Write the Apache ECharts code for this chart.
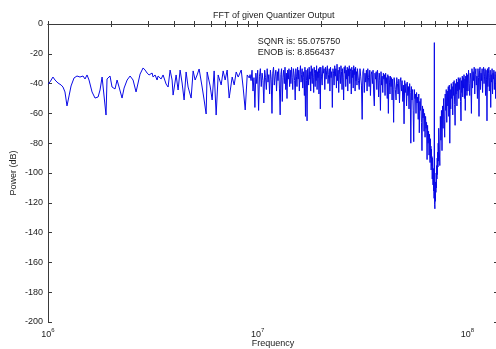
<!DOCTYPE html>
<html>
<head>
<meta charset="utf-8">
<script src="https://cdn.jsdelivr.net/npm/echarts@6/dist/echarts.min.js"></script>
<style>
  html, body { margin: 0; padding: 0; background: #fff; }
  #chart { width: 496px; height: 349px; }
</style>
</head>
<body>
<div id="chart"></div>
<script>
// spectrum
// low end, bins far apart on the log axis: [frequency MHz, power dB]
const lowTrace = [
  [1.000,-40.3],[1.022,-38.9],[1.056,-35.6],[1.080,-37.6],[1.116,-39.6],[1.154,-40.9],[1.179,-42.3],
  [1.205,-45.6],[1.232,-55.0],[1.260,-48.3],[1.288,-41.6],[1.331,-36.2],[1.375,-34.9],[1.421,-35.6],
  [1.469,-34.9],[1.502,-36.9],[1.535,-34.2],[1.569,-37.6],[1.622,-45.6],[1.676,-49.7],[1.733,-49.0],
  [1.771,-44.3],[1.811,-35.6],[1.851,-34.9],[1.891,-61.1],[1.912,-36.9],[1.976,-34.9],[2.020,-42.3],
  [2.088,-43.6],[2.135,-37.6],[2.182,-42.3],[2.255,-49.7],[2.306,-43.0],[2.384,-37.6],[2.463,-34.9],
  [2.545,-37.6],[2.630,-45.6],[2.749,-33.6],[2.841,-29.5],[2.904,-30.9],[2.968,-32.9],[3.034,-34.2],
  [3.136,-32.9],[3.171,-35.6],[3.241,-34.2],[3.313,-37.6],[3.350,-34.9],[3.462,-36.9],[3.539,-34.2],
  [3.658,-40.3],[3.739,-42.3],[3.822,-30.9],[3.907,-37.6],[3.950,-47.7],[4.083,-34.2],[4.173,-44.3],
  [4.266,-30.9],[4.361,-39.6],[4.458,-51.0],[4.557,-32.2],[4.658,-42.3],[4.815,-49.7],[4.922,-31.5],
  [5.031,-37.6],[5.143,-34.2],[5.257,-30.2],[5.434,-42.3],[5.554,-51.0],[5.678,-60.4],[5.741,-32.2],
  [5.933,-41.6],[6.065,-51.0],[6.200,-31.5],[6.338,-61.1],[6.479,-34.2],[6.696,-40.9],[6.845,-31.5],
  [6.997,-37.6],[7.153,-30.9],[7.312,-49.7],[7.558,-35.6],[7.726,-40.9],[7.898,-32.2],[8.074,-35.6],
  [8.345,-30.9],[8.531,-43.0],[8.721,-57.7],[8.915,-34.2],[9.113,-36.2]
];

// dense part: evenly spaced FFT bins, [first bin MHz, bin spacing MHz] + power in dB per bin
const bandA = [9.2, 0.1];
const bandADb = [
  -34,-38,-31,-45,-36,-56,-33,-40,-31,-58, -35,-30,-42,-33,-38,-53,-31,-36,-44,-30,
  -39,-34,-47,-31,-37,-60,-33,-29,-41,-35, -31,-45,-32,-38,-30,-43,-61,-34,-30,-52,
  -36,-31,-40,-29,-44,-33,-50,-31,-37,-30,-42
];
const bandB = [14.3, 0.1];
const bandBDb = [
  -31,-40,-29,-36,-44,-30,-33,-38,-51,-30, -35,-42,-29,-37,-31,-45,-33,-28,-39,-34,
  -30,-43,-32,-36,-48,-29,-62,-31,-38,-65, -30,-34,-41,-29,-37,-32,-45,-28,-35,-40,
  -30,-36,-46,-29,-33,-42,-31,-38,-28,-44, -32,-36,-30,-47,-33,-29,-57
];
const bandC = [20.0, 0.15];
const bandCDb = [
  -29,-35,-41,-28,-33,-30,-44,-29,-37,-31, -28,-40,-34,-30,-45,-29,-36,-32,-56,-30,
  -33,-41,-28,-35,-30,-43,-27,-38,-31,-46, -29,-34,-40,-28,-32,-44,-30,-36,-51,-29,
  -33,-28,-42,-31,-37,-29,-45,-30,-35,-28, -40,-32,-30,-47,-29,-36,-31,-43,-28,-34,
  -30,-45,-29,-38,-32,-41,-30
];
const bandD = [30.0, 0.25];
const bandDDb = [
  -31,-38,-44,-30,-35,-41,-64,-32,-30,-46, -33,-39,-31,-45,-30,-36,-42,-31,-48,-34,
  -32,-40,-31,-47,-55,-33,-37,-32,-44,-31, -36,-49,-33,-38,-58,-32,-41,-35,-46,-33,
  -37,-34,-48,-33,-40,-36,-50,-34,-60,-35, -39,-47,-35,-42,-36,-51,-37,-44,-66,-36
];
const bandE = [45.0, 0.35];
const bandEDb = [
  -37,-44,-51,-36,-40,-47,-37,-53,-39,-36, -45,-38,-52,-41,-67,-38,-46,-40,-55,-39,
  -48,-42,-57,-40,-46,-80,-42,-51,-44,-58, -79,-44,-50,-47,-60,-46,-53,-49,-64,-47,
  -73,-52,-58,-50,-66,-85,-55,-63,-57,-72, -60,-76,-62,-70,-66,-91,-68,-80,-72,-88
];
// notch, the input tone sits at 69.6 MHz
const bandF = [66.0, 0.2];
const bandFDb = [
  -74,-86,-93,-77,-90,-82,-98,-84,-95,-89, -104,-90,-99,-108,-97,-112,-104,-117,-12.5,-121,
  -124,-112,-119,-106,-113,-100,-110,-95,-104,-90, -101,-86,-96,-80,-92
];
const bandG = [73.0, 0.45];
const bandGDb = [
  -70,-84,-95,-62,-78,-58,-85,-55,-70,-50, -64,-76,-47,-58,-44,-66,-45,-55,-42,-62,
  -41,-80,-44,-57,-40,-50,-42,-61,-39,-48, -38,-54,-68,-40,-47,-37,-55,-39,-45,-36,
  -50,-37,-44,-36,-52,-65,-38,-46,-35,-49, -36,-43,-34,-50,-37,-58,-35,-45,-33,-48
];
const bandH = [100.0, 0.65];
const bandHDb = [
  -34,-45,-31,-40,-48,-33,-37,-60,-30,-43, -32,-38,-29,-47,-34,-30,-41,-35,-50,-30,
  -36,-62,-31,-29,-44,-33,-38,-30,-46,-32, -29,-40,-35,-30,-48,-31,-37,-65,-30,-42,
  -33,-29,-45,-36,-31,-56,-34,-39,-30,-47, -33,-37,-31,-44,-35,-32,-50,-34,-38,-32,
  -46,-35
];

const xLabelValues = [1e6, 1e7, 1e8];
const xTickValues = [
  1e6, 2e6, 3e6, 4e6, 5e6, 6e6, 7e6, 8e6, 9e6,
  1e7, 2e7, 3e7, 4e7, 5e7, 6e7, 7e7, 8e7, 9e7,
  1e8
];
const noteTexts = ['SQNR is: 55.075750', 'ENOB is: 8.856437'];
const noteDb = [-12, -19];

function binned(bins, db) {
  return db.map((v, i) => [bins[0] + bins[1] * i, v]);
}

const spectrum = [
  ...lowTrace,
  ...binned(bandA, bandADb),
  ...binned(bandB, bandBDb),
  ...binned(bandC, bandCDb),
  ...binned(bandD, bandDDb),
  ...binned(bandE, bandEDb),
  ...binned(bandF, bandFDb),
  ...binned(bandG, bandGDb),
  ...binned(bandH, bandHDb)
].map(([mhz, db]) => [mhz * 1e6, db]);

const FONT = 'Liberation Sans, Arial, sans-serif';
const AXIS_COLOR = '#3a3a3a';
const TEXT_COLOR = '#222';

const chart = echarts.init(document.getElementById('chart'));

const baseX = {
  type: 'log',
  logBase: 10,
  min: 1e6,
  max: 1.4e8,
  axisLine: { show: true, lineStyle: { color: AXIS_COLOR, width: 1 } },
  axisTick: { show: true, inside: true, length: 3, customValues: xTickValues,
              lineStyle: { color: AXIS_COLOR } },
  splitLine: { show: false },
  minorTick: { show: false }
};
const baseY = {
  type: 'value',
  min: -200,
  max: 0,
  interval: 20,
  axisLine: { show: true, lineStyle: { color: AXIS_COLOR, width: 1 } },
  axisTick: { show: true, inside: true, length: 4, lineStyle: { color: AXIS_COLOR } },
  splitLine: { show: false }
};

chart.setOption({
  animation: false,
  backgroundColor: '#fff',
  textStyle: { fontFamily: FONT },
  title: {
    text: 'FFT of given Quantizer Output',
    left: 208,
    top: 6,
    textStyle: { fontSize: 9, fontWeight: 'normal', color: TEXT_COLOR, fontFamily: FONT }
  },
  grid: { left: 48, top: 24, right: -2, bottom: 27, containLabel: false, outerBoundsMode: 'none' },
  xAxis: [
    Object.assign({}, baseX, {
      position: 'bottom',
      name: 'Frequency',
      nameLocation: 'middle',
      nameGap: 17,
      nameMoveOverlap: false,
      nameTextStyle: { fontSize: 9, color: TEXT_COLOR, fontFamily: FONT },
      axisLabel: {
        show: true,
        customValues: xLabelValues,
        margin: 5,
        formatter: v => '{b|10}{s|' + Math.round(Math.log10(v)) + '}',
        rich: {
          b: { fontSize: 9, color: TEXT_COLOR, fontFamily: FONT, verticalAlign: 'bottom', lineHeight: 12 },
          s: { fontSize: 6, color: TEXT_COLOR, fontFamily: FONT, verticalAlign: 'top' }
        }
      }
    }),
    Object.assign({}, baseX, { position: 'top', axisLabel: { show: false } })
  ],
  yAxis: [
    Object.assign({}, baseY, {
      position: 'left',
      name: 'Power (dB)',
      nameLocation: 'middle',
      nameGap: 30,
      nameMoveOverlap: false,
      nameTextStyle: { fontSize: 9, color: TEXT_COLOR, fontFamily: FONT },
      axisLabel: { fontSize: 9, color: TEXT_COLOR, margin: 5, fontFamily: FONT }
    }),
    Object.assign({}, baseY, { position: 'right', axisLabel: { show: false } })
  ],
  series: [{
    type: 'line',
    xAxisIndex: 0,
    yAxisIndex: 0,
    data: spectrum,
    symbol: 'none',
    showSymbol: false,
    sampling: null,
    lineStyle: { color: '#0a0ae6', width: 1 },
    markPoint: {
      symbol: 'circle',
      symbolSize: 0,
      silent: true,
      label: {
        show: true,
        position: 'right',
        distance: 0,
        fontSize: 9,
        color: TEXT_COLOR,
        fontFamily: FONT,
        formatter: p => p.name
      },
      data: noteTexts.map((t, i) => ({ name: t, coord: [1e7, noteDb[i]] }))
    }
  }]
});
</script>
</body>
</html>
